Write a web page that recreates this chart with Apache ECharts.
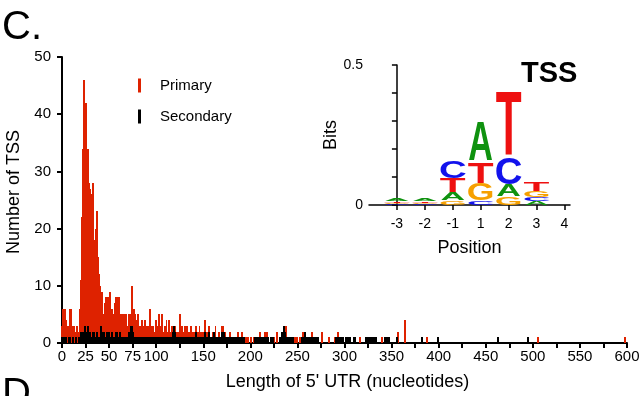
<!DOCTYPE html>
<html>
<head>
<meta charset="utf-8">
<script src="https://cdn.jsdelivr.net/npm/echarts@6/dist/echarts.min.js"></script>
<style>
  html, body { margin: 0; padding: 0; background: #fff; }
  #chart { width: 642px; height: 396px; }
</style>
</head>
<body>
<div id="chart"></div>
<script>
// 5' UTR length histogram, one bin per nucleotide (counts)
// nt 0..149
var primaryHead = [
  3, 6, 4, 6, 4, 2, 3, 2, 6, 5,
  6, 3, 2, 3, 2, 1, 3, 1, 2, 6,
  11, 22, 34, 46, 42, 42, 38, 30, 34, 28,
  27, 26, 22, 28, 18, 16, 20, 23, 15, 12,
  10, 7, 9, 6, 5, 4, 7, 8, 5, 8,
  5, 9, 6, 6, 4, 5, 7, 8, 8, 5,
  6, 8, 5, 5, 5, 3, 5, 4, 5, 3,
  2, 5, 3, 5, 10, 6, 4, 6, 5, 3,
  4, 5, 2, 3, 3, 4, 2, 3, 4, 2,
  3, 2, 3, 6, 2, 3, 3, 3, 2, 2,
  4, 3, 2, 5, 1, 3, 5, 2, 2, 3,
  2, 4, 2, 1, 4, 2, 2, 3, 2, 2,
  3, 2, 2, 2, 2, 5, 2, 3, 1, 2,
  1, 3, 2, 3, 1, 2, 1, 3, 2, 2,
  1, 2, 3, 1, 2, 1, 3, 2, 1, 2
]
// nt >= 150, [length, count]
var primaryTail = [
  [150, 2], [151, 1], [152, 4], [153, 2], [155, 2], [156, 3], [158, 1], [160, 2], [161, 1], [163, 3],
  [165, 1], [167, 2], [170, 3], [171, 3], [173, 2], [175, 1], [178, 2], [180, 1], [182, 1], [185, 1],
  [187, 2], [191, 2], [195, 1], [198, 1], [201, 1], [204, 1], [207, 1], [210, 2], [212, 1], [216, 2],
  [218, 2], [222, 1], [225, 1], [228, 2], [231, 1], [235, 1], [238, 3], [241, 1], [244, 1], [247, 1],
  [250, 1], [253, 1], [256, 2], [260, 1], [265, 2], [270, 1], [276, 2], [284, 1], [290, 1], [293, 2],
  [305, 1], [316, 1], [340, 1], [357, 2], [364, 4], [388, 1], [463, 1], [505, 1], [598, 1]
]
var secondaryHead = [
  1, 1, 1, 0, 1, 0, 0, 1, 0, 1,
  0, 0, 1, 0, 0, 1, 0, 0, 1, 1,
  2, 2, 2, 1, 3, 2, 1, 2, 3, 1,
  2, 1, 1, 2, 2, 1, 1, 2, 1, 0,
  1, 3, 2, 1, 1, 2, 1, 1, 2, 1,
  2, 1, 1, 2, 1, 0, 1, 2, 2, 1,
  1, 1, 2, 1, 1, 0, 1, 1, 0, 1,
  1, 2, 1, 3, 3, 2, 1, 1, 0, 1,
  1, 1, 0, 1, 1, 1, 0, 1, 1, 0,
  1, 0, 1, 1, 0, 1, 1, 0, 1, 1,
  1, 0, 1, 1, 1, 0, 1, 0, 1, 0,
  1, 1, 0, 1, 1, 0, 1, 1, 2, 3,
  2, 1, 1, 0, 1, 1, 1, 0, 1, 1,
  1, 0, 1, 1, 1, 1, 0, 1, 1, 0,
  1, 1, 2, 1, 0, 1, 1, 1, 0, 1
]
var secondaryTail = [
  [150, 1], [151, 1], [152, 2], [153, 1], [154, 1], [156, 2], [157, 1], [158, 1], [160, 1], [161, 2],
  [162, 1], [164, 1], [165, 1], [167, 1], [168, 1], [170, 2], [171, 1], [172, 2], [174, 1], [175, 1],
  [177, 1], [178, 1], [180, 1], [181, 1], [183, 1], [185, 1], [187, 1], [188, 1], [190, 1], [192, 1],
  [193, 1], [205, 1], [206, 1], [208, 1], [210, 1], [212, 1], [215, 1], [217, 1], [219, 1], [222, 1],
  [224, 1], [232, 1], [233, 1], [234, 2], [235, 2], [236, 3], [237, 2], [238, 1], [240, 1], [241, 1],
  [243, 1], [245, 1], [255, 1], [256, 1], [257, 1], [258, 2], [259, 1], [260, 1], [262, 1], [263, 1],
  [265, 1], [266, 1], [268, 1], [270, 1], [271, 1], [272, 1], [291, 1], [292, 1], [294, 1], [296, 1],
  [298, 1], [302, 1], [304, 1], [306, 1], [310, 1], [311, 1], [323, 1], [325, 1], [326, 1], [328, 1],
  [330, 1], [332, 1], [334, 1], [343, 1], [345, 1], [347, 1], [356, 1], [382, 1], [399, 1], [463, 1],
  [495, 1]
]
var xLabelValues = [0, 25, 50, 75, 100, 150, 200, 250, 300, 350, 400, 450, 500, 550, 600]
var xTickValues = [0, 25, 50, 75, 100, 125, 150, 175, 200, 225, 250, 275, 300, 325, 350, 375, 400, 425, 450, 475, 500, 525, 550, 575, 600]

// sequence logo around the TSS (bits per letter)
var logoPositions = ['-3', '-2', '-1', '1', '2', '3', '4']
var logoLetters = ['A', 'C', 'G', 'T']
var logoA = [0.008, 0.007, 0.028, 0.14, 0.04, 0.012, 0]
var logoC = [0.003, 0.003, 0.06, 0.014, 0.095, 0.014, 0]
var logoG = [0.005, 0.004, 0.015, 0.062, 0.03, 0.022, 0]
var logoT = [0.006, 0.006, 0.05, 0.077, 0.23, 0.032, 0]

var font = 'Liberation Sans'

function toPairs(head, tail) {
  var out = head.map(function (v, i) { return [i, v] })
  return out.concat(tail).filter(function (d) { return d[1] > 0 })
}

// one rect per 1-nt bin, snapped to whole pixels so neighbours touch
function renderBin(params, api) {
  var x = api.value(0)
  var a = api.coord([x - 0.5, api.value(1)])
  var b = api.coord([x + 0.5, 0])
  var x0 = Math.floor(a[0])
  var x1 = Math.max(Math.ceil(b[0]), x0 + 1)
  return {
    type: 'rect',
    shape: { x: x0, y: Math.round(a[1]), width: x1 - x0, height: Math.round(b[1]) - Math.round(a[1]) },
    style: api.style()
  }
}

// stack letters at each position, smallest at the bottom
function buildLogo() {
  var cols = [logoA, logoC, logoG, logoT]
  var out = []
  logoPositions.forEach(function (p, i) {
    var items = [0, 1, 2, 3].map(function (k) { return { k: k, h: cols[k][i] } })
    items.sort(function (a, b) { return a.h - b.h })
    var base = 0
    items.forEach(function (it) {
      if (it.h > 0) out.push([i, base, base + it.h, it.k])
      base += it.h
    })
  })
  return out
}

var letterColors = { A: '#0f920f', C: '#1212ec', G: '#f6a000', T: '#ee1010' }
var letterInk = { A: 0.72, C: 0.64, G: 0.69, T: 0.58 } // ink width / em, bold

function renderLetter(params, api) {
  var pos = api.value(0)
  var lo = api.value(1)
  var hi = api.value(2)
  var letter = logoLetters[api.value(3)]
  var a = api.coord([pos - 0.44, lo])
  var b = api.coord([pos + 0.44, hi])
  var w = b[0] - a[0]
  var h = a[1] - b[1]
  if (h <= 0.2) return
  var fs = 40
  return {
    type: 'text',
    x: (a[0] + b[0]) / 2,
    y: (a[1] + b[1]) / 2 + h * 0.06,
    scaleX: w / (letterInk[letter] * fs),
    scaleY: h / (0.716 * fs),
    style: {
      text: letter,
      fontSize: fs,
      fontWeight: 'bold',
      fontFamily: font,
      fill: letterColors[letter],
      align: 'center',
      verticalAlign: 'middle'
    }
  }
}

var chart = echarts.init(document.getElementById('chart'), null, { renderer: 'canvas' })

chart.setOption({
  backgroundColor: '#fff',
  animation: false,
  textStyle: { fontFamily: font, color: '#000' },
  graphic: [
    { type: 'text', left: 2, top: 8, style: { text: 'C.', fontSize: 40, fontFamily: font, fill: '#000' } },
    { type: 'text', left: 2, top: 375, style: { text: 'D', fontSize: 40, fontFamily: font, fill: '#000' } },
    { type: 'text', left: 521, top: 59, style: { text: 'TSS', fontSize: 29, fontWeight: 'bold', fontFamily: font, fill: '#000' } }
  ],
  legend: {
    data: ['Primary', 'Secondary'],
    orient: 'vertical',
    left: 138,
    top: 78,
    padding: 0,
    itemWidth: 3,
    itemHeight: 14,
    itemGap: 16,
    icon: 'rect',
    textStyle: { fontSize: 15, fontFamily: font, color: '#000', padding: [0, 0, 0, 14] }
  },
  grid: [
    { left: 62, right: 15, top: 57, bottom: 53, outerBoundsMode: 'none' },
    { left: 369, top: 65, width: 201, height: 140, outerBoundsMode: 'none' }
  ],
  xAxis: [
    {
      gridIndex: 0,
      type: 'value',
      min: 0,
      max: 600,
      interval: 25,
      name: "Length of 5' UTR (nucleotides)",
      nameLocation: 'middle',
      nameGap: 30,
      nameTextStyle: { fontSize: 18, fontFamily: font, color: '#000', padding: [0, 0, 0, 6] },
      axisLine: { show: true, lineStyle: { color: '#000', width: 2 } },
      axisTick: { show: true, customValues: xTickValues, length: 5, lineStyle: { color: '#000', width: 2 } },
      axisLabel: { customValues: xLabelValues, fontSize: 15, margin: 6, color: '#000', fontFamily: font },
      splitLine: { show: false }
    },
    {
      gridIndex: 1,
      type: 'value',
      min: -1,
      max: 6.2,
      name: 'Position',
      nameLocation: 'middle',
      nameGap: 34,
      nameTextStyle: { fontSize: 18, fontFamily: font, color: '#000' },
      axisLine: { show: true, lineStyle: { color: '#000', width: 1.5 } },
      axisTick: { show: true, customValues: [0, 1, 2, 3, 4, 5, 6], length: 5, lineStyle: { color: '#000', width: 1.5 } },
      axisLabel: {
        customValues: [0, 1, 2, 3, 4, 5, 6],
        fontSize: 14,
        margin: 12,
        color: '#000',
        fontFamily: font,
        formatter: function (v) { return logoPositions[Math.round(v)] }
      },
      splitLine: { show: false }
    }
  ],
  yAxis: [
    {
      gridIndex: 0,
      type: 'value',
      min: 0,
      max: 50,
      interval: 10,
      name: 'Number of TSS',
      nameLocation: 'middle',
      nameGap: 33,
      nameTextStyle: { fontSize: 18, fontFamily: font, color: '#000', padding: [0, 0, 0, 16] },
      axisLine: { show: true, lineStyle: { color: '#000', width: 2 } },
      axisTick: { show: true, length: 5, lineStyle: { color: '#000', width: 2 } },
      axisLabel: { fontSize: 15, margin: 11, color: '#000', fontFamily: font },
      splitLine: { show: false }
    },
    {
      gridIndex: 1,
      type: 'value',
      min: 0,
      max: 0.5,
      interval: 0.1,
      name: 'Bits',
      nameLocation: 'middle',
      nameGap: 28,
      nameTextStyle: { fontSize: 18, fontFamily: font, color: '#000' },
      axisLine: { show: true, lineStyle: { color: '#000', width: 1.5 } },
      axisTick: { show: true, length: 5, lineStyle: { color: '#000', width: 1.5 } },
      axisLabel: { customValues: [0, 0.5], fontSize: 14, margin: 6, color: '#000', fontFamily: font },
      splitLine: { show: false }
    }
  ],
  series: [
    {
      name: 'Primary',
      type: 'custom',
      xAxisIndex: 0,
      yAxisIndex: 0,
      renderItem: renderBin,
      itemStyle: { color: '#de2200' },
      encode: { x: 0, y: 1 },
      data: toPairs(primaryHead, primaryTail)
    },
    {
      name: 'Secondary',
      type: 'custom',
      xAxisIndex: 0,
      yAxisIndex: 0,
      renderItem: renderBin,
      itemStyle: { color: '#000' },
      encode: { x: 0, y: 1 },
      data: toPairs(secondaryHead, secondaryTail)
    },
    {
      type: 'custom',
      xAxisIndex: 1,
      yAxisIndex: 1,
      renderItem: renderLetter,
      data: buildLogo(),
      encode: { x: 0, y: 2 },
      silent: true
    }
  ]
})
</script>
</body>
</html>
